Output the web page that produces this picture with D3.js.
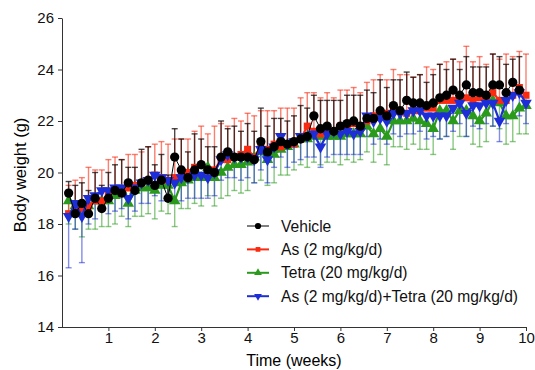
<!DOCTYPE html>
<html><head><meta charset="utf-8">
<script src="https://cdn.jsdelivr.net/npm/d3@7"></script>
<style>
body{margin:0;background:#fff;}
svg{font-family:"Liberation Sans",Arial,sans-serif;}
</style></head>
<body><svg id="c" width="535" height="370"></svg>
<script>
const days = d3.range(1, 71);
const xTicks = [1,2,3,4,5,6,7,8,9,10];
const yTicks = [14,16,18,20,22,24,26];
const seriesNames = ["Vehicle","As (2 mg/kg/d)","Tetra (20 mg/kg/d)","As (2 mg/kg/d)+Tetra (20 mg/kg/d)"];

const vehicle = [19.2,18.4,18.8,18.4,19.0,18.6,19.0,19.3,19.2,19.6, 19.3,19.6,19.7,19.5,19.7,19.0,20.6,20.1,19.8,20.1,
 20.3,20.1,20.0,20.6,20.8,20.6,20.6,20.6,20.5,21.2, 20.8,21.0,21.2,21.1,21.2,21.3,21.4,22.2,21.7,21.8,
 21.6,21.8,21.9,22.0,21.8,22.1,22.1,22.4,22.2,22.6, 22.4,22.8,22.7,22.7,22.6,22.7,22.9,23.0,23.2,23.0,
 23.4,23.1,23.1,23.0,23.4,23.4,23.1,23.5,23.2,null];
const vehicleErr = [0.45,1.1,0.8,0.9,1.0,0.9,1.0,1.0,1.3,0.6, 0.9,1.3,1.3,0.8,1.0,0.9,1.1,1.2,1.0,1.4,
 1.0,0.9,1.0,1.4,0.9,1.2,1.0,1.3,1.1,1.3, 1.0,1.1,0.9,0.9,1.0,1.3,1.1,0.8,1.1,1.0,
 1.2,1.0,1.1,1.0,1.2,1.1,1.0,1.2,1.1,1.0, 1.2,1.1,1.0,1.1,0.9,1.1,1.3,1.0,1.2,1.0,
 1.1,1.0,1.0,1.1,1.2,1.1,1.1,0.9,1.3,null];

const asVals = [18.4,18.6,18.6,18.7,18.9,18.9,19.1,19.3,19.3,19.4, 19.5,19.6,19.7,19.9,19.8,19.7,19.8,19.9,20.0,20.2,
 20.3,20.1,20.1,20.5,20.5,20.6,20.7,20.9,20.6,21.0, 20.9,21.1,21.0,21.1,21.1,21.3,21.8,21.6,21.5,21.6,
 21.6,21.8,21.7,21.9,21.8,22.0,22.2,22.3,22.3,22.4, 22.4,22.3,22.4,22.4,22.5,22.5,22.8,22.8,22.8,22.9,
 22.9,22.8,22.9,22.8,23.1,22.8,22.8,23.0,23.3,23.0];
const asErr = [1.1,1.1,1.2,1.5,1.2,1.2,1.4,1.3,1.2,1.3, 1.2,1.2,1.3,1.2,1.4,1.4,1.5,1.4,1.3,1.4,
 1.5,1.4,1.7,1.4,1.3,1.5,1.3,1.4,1.6,1.4, 1.5,1.3,1.5,1.4,1.4,1.6,1.3,1.5,1.4,1.5,
 1.3,1.4,1.5,1.4,1.3,1.5,1.4,1.5,1.3,1.6, 1.4,1.5,1.3,1.4,1.6,1.5,1.4,1.5,1.6,1.4,
 2.0,1.5,1.6,1.4,1.5,1.6,1.8,1.5,1.4,1.6];

const tetraVals = [18.9,18.7,18.5,18.7,18.9,18.9,18.9,19.1,19.3,18.8, 19.3,19.4,19.4,19.3,19.5,19.5,18.9,19.6,19.7,19.8,
 19.8,20.2,19.8,20.0,20.2,20.3,20.3,20.4,20.6,20.8, 20.5,20.7,20.9,21.0,21.1,21.3,21.3,21.4,21.4,21.4,
 21.4,21.4,21.5,21.5,21.5,21.8,21.5,21.7,21.4,22.0, 22.0,22.0,22.1,22.0,21.9,21.7,22.4,22.4,22.0,22.4,
 22.4,22.2,22.0,22.3,22.8,22.7,22.2,22.2,22.5,22.6];
const tetraErr = [0.9,0.9,1.0,0.9,1.1,1.0,1.0,1.1,1.0,0.9, 1.0,1.1,1.0,1.1,1.0,1.1,1.0,1.0,1.1,1.0,
 1.1,1.1,1.1,1.0,1.1,1.0,1.1,1.1,1.0,1.1, 1.0,1.1,1.0,1.1,1.0,1.0,1.1,1.0,1.1,1.0,
 1.0,1.1,1.0,1.1,1.0,1.0,1.1,1.0,1.1,1.0, 1.0,1.1,1.0,1.1,1.0,1.0,1.1,1.0,1.1,1.0,
 1.0,1.1,1.0,1.1,1.0,1.0,1.1,1.0,1.0,1.1];

const comboVals = [18.3,18.8,18.3,19.0,19.1,19.3,19.3,19.4,19.4,19.0, 19.4,19.6,19.7,19.9,19.8,19.7,19.6,19.8,19.8,19.9,
 19.9,19.8,20.0,20.5,20.7,20.6,20.6,20.6,20.5,20.9, 20.5,21.0,21.4,21.1,21.2,21.4,21.4,21.5,21.0,21.5,
 21.6,21.5,21.6,21.5,21.6,22.2,22.0,22.1,22.0,22.3, 22.3,22.3,22.4,22.4,22.2,22.2,22.2,22.2,22.5,22.7,
 22.3,22.6,22.6,22.7,22.7,22.0,22.8,23.0,23.1,22.7];
const comboErr = [2.0,1.0,1.8,1.0,0.9,0.8,0.9,0.9,0.8,0.8, 0.9,0.8,0.9,0.8,0.9,0.8,0.8,0.9,0.8,0.9,
 0.9,0.8,0.9,0.8,0.9,0.8,0.9,0.8,0.9,0.8, 0.9,0.8,0.8,0.9,0.8,0.9,0.8,0.9,0.8,0.9,
 0.9,0.8,0.9,0.8,0.9,0.8,0.9,0.8,0.9,0.8, 0.9,0.8,0.9,0.8,0.9,0.8,0.9,0.8,0.9,0.8,
 0.9,0.8,0.9,0.8,0.9,0.8,0.9,0.8,0.9,0.8];

const series = [
 {name:seriesNames[2], vals:tetraVals, err:tetraErr, dir:-1, color:"#2a9a1c", bar:"rgba(42,154,28,0.55)", sym:d3.symbolTriangle, size:58, rot:0},
 {name:seriesNames[1], vals:asVals, err:asErr, dir:1, color:"#fa2a10", bar:"rgba(250,42,16,0.6)", sym:d3.symbolSquare, size:50, rot:0},
 {name:seriesNames[3], vals:comboVals, err:comboErr, dir:-1, color:"#1e2ed6", bar:"rgba(30,46,214,0.55)", sym:d3.symbolTriangle, size:58, rot:180},
 {name:seriesNames[0], vals:vehicle, err:vehicleErr, dir:1, color:"#000000", bar:"rgba(20,10,10,0.75)", sym:d3.symbolCircle, size:68, rot:0}
];

const svg = d3.select("#c");
const x = d3.scaleLinear().domain([0,10]).range([62,526]);
const y = d3.scaleLinear().domain([14,26]).range([327,18]);

const gx = svg.append("g").attr("transform","translate(0,327)")
  .call(d3.axisBottom(x).tickValues(xTicks).tickSize(4).tickPadding(1).tickSizeOuter(0));
const gy = svg.append("g").attr("transform","translate(62,0)")
  .call(d3.axisLeft(y).tickValues(yTicks).tickSize(4).tickPadding(4).tickSizeOuter(0));
[gx,gy].forEach(g=>{
  g.selectAll("path,line").attr("stroke","#333").attr("stroke-width",1);
  g.selectAll("text").attr("fill","#111").style("font-size","15px").style("font-family","'Liberation Sans',Arial,sans-serif");
});
gx.select(".domain").attr("d","M58,0.5H526");

svg.append("text").attr("x",294).attr("y",366).attr("text-anchor","middle")
  .style("font-size","16px").text("Time (weeks)");
svg.append("text").attr("transform","translate(26,175) rotate(-90)").attr("text-anchor","middle")
  .style("font-size","16.5px").text("Body weight (g)");

const plot = svg.append("g");
series.forEach(s=>{
  const g = plot.append("g");
  days.forEach((d,i)=>{
    const v = s.vals[i], e = s.err[i];
    if(v==null||e==null) return;
    const xx = x(d/7), y0 = y(v), y1 = y(v + s.dir*e);
    g.append("line").attr("x1",xx).attr("x2",xx).attr("y1",y0).attr("y2",y1)
      .attr("stroke",s.bar).attr("stroke-width",1.4);
    g.append("line").attr("x1",xx-3).attr("x2",xx+3).attr("y1",y1).attr("y2",y1)
      .attr("stroke",s.bar).attr("stroke-width",1.4);
  });
});
const line = d3.line().defined(d=>d[1]!=null).x(d=>x(d[0]/7)).y(d=>y(d[1]));
series.forEach(s=>{
  const pts = days.map((d,i)=>[d,s.vals[i]]);
  plot.append("path").attr("d",line(pts)).attr("fill","none")
    .attr("stroke",s.color).attr("stroke-width",s.color==="#000000"?1:2.2);
  plot.append("g").selectAll("path").data(pts.filter(p=>p[1]!=null)).join("path")
    .attr("d",d3.symbol().type(s.sym).size(s.size))
    .attr("transform",p=>`translate(${x(p[0]/7)},${y(p[1])}) rotate(${s.rot})`)
    .attr("fill",s.color);
});

const legendOrder = [3,1,0,2];
const lg = svg.append("g");
legendOrder.forEach((si,k)=>{
  const s = series[si];
  const yy = 226 + k*23.4;
  lg.append("line").attr("x1",247).attr("x2",269).attr("y1",yy).attr("y2",yy)
    .attr("stroke",s.color).attr("stroke-width",s.color==="#000000"?1:2);
  lg.append("path").attr("d",d3.symbol().type(s.sym).size(s.size*0.45))
    .attr("transform",`translate(258,${yy}) rotate(${s.rot})`).attr("fill",s.color);
  lg.append("text").attr("x",281).attr("y",yy).attr("dy","0.36em")
    .style("font-size","15.6px").attr("fill","#111").text(s.name);
});
</script></body></html>
